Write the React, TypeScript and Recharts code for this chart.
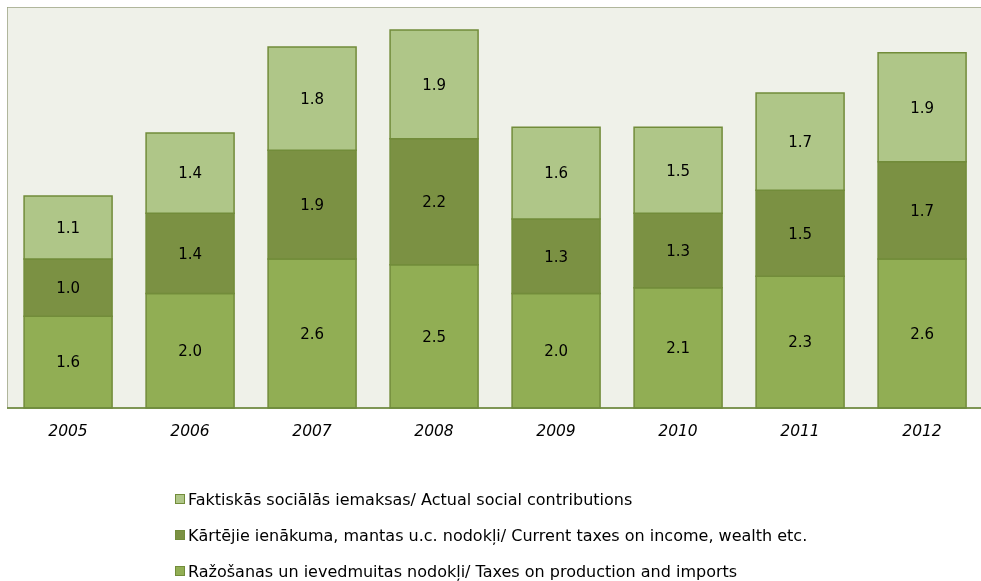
import React from "react";
import { BarChart, Bar, XAxis, YAxis, CartesianGrid, LabelList, Legend, ReferenceArea } from "recharts";

const years = ["2005", "2006", "2007", "2008", "2009", "2010", "2011", "2012"];
const production = [1.6, 2.0, 2.6, 2.5, 2.0, 2.1, 2.3, 2.6];
const currentTaxes = [1.0, 1.4, 1.9, 2.2, 1.3, 1.3, 1.5, 1.7];
const social = [1.1, 1.4, 1.8, 1.9, 1.6, 1.5, 1.7, 1.9];

const seriesNames = {
  social: "Faktiskās sociālās iemaksas/ Actual social contributions",
  current: "Kārtējie ienākuma, mantas u.c. nodokļi/ Current taxes on income, wealth etc.",
  production: "Ražošanas un ievedmuitas nodokļi/ Taxes on production and imports",
};

const colors = { social: "#AFC688", current: "#7B9143", production: "#91AE54" };
const border = "#728C3A";
const font = "'DejaVu Sans', Verdana, sans-serif";

const data = years.map((y, i) => ({
  year: y,
  production: production[i],
  current: currentTaxes[i],
  social: social[i],
}));

const legendItems = [
  { key: "social", name: seriesNames.social, color: colors.social },
  { key: "current", name: seriesNames.current, color: colors.current },
  { key: "production", name: seriesNames.production, color: colors.production },
];

// legend drawn as three stacked rows, light series first
function LegendBox() {
  return (
    <div style={{ fontFamily: font, fontSize: 16, color: "#000" }}>
      {legendItems.map((it) => (
        <div key={it.key} style={{ display: "flex", alignItems: "center", height: 36 }}>
          <span
            style={{
              display: "inline-block", width: 8, height: 8, background: it.color,
              border: `1px solid ${border}`, marginRight: 3,
            }}
          />
          <span>{it.name}</span>
        </div>
      ))}
    </div>
  );
}

const label = { fill: "#000", fontSize: 15, fontFamily: font };

export default function App() {
  // fixed so the oversized plot doesn't trigger page scrollbars
  return (
    <div style={{ position: "fixed", top: 7, left: 7, width: 974, height: 574, overflow: "hidden" }}>
      <BarChart
        width={976}
        height={574}
        data={data}
        margin={{ top: 0, right: 0, left: 0, bottom: 35 }}
        barCategoryGap="14%"
      >
        <CartesianGrid horizontal={false} vertical={false} fill="#EFF1E9" />
        <ReferenceArea y1={0} y2={7} fill="none" stroke="#9CA383" strokeWidth={1.5} ifOverflow="visible" />
        <YAxis domain={[0, 7]} hide />
        <XAxis
          dataKey="year"
          height={30}
          tickLine={false}
          axisLine={{ stroke: "#6E8B3D", strokeWidth: 1.5 }}
          tick={{ fill: "#000", fontSize: 15.5, fontStyle: "italic", fontFamily: font }}
          tickMargin={11}
        />
        <Legend
          verticalAlign="bottom"
          content={() => <LegendBox />}
          wrapperStyle={{ position: "absolute", top: 474, left: 168, width: 800, bottom: "auto" }}
        />
        <Bar dataKey="production" name={seriesNames.production} stackId="a" fill={colors.production} stroke={border} strokeWidth={1.5} isAnimationActive={false}>
          <LabelList dataKey="production" position="center" style={label} formatter={(v: number) => v.toFixed(1)} />
        </Bar>
        <Bar dataKey="current" name={seriesNames.current} stackId="a" fill={colors.current} stroke={border} strokeWidth={1.5} isAnimationActive={false}>
          <LabelList dataKey="current" position="center" style={label} formatter={(v: number) => v.toFixed(1)} />
        </Bar>
        <Bar dataKey="social" name={seriesNames.social} stackId="a" fill={colors.social} stroke={border} strokeWidth={1.5} isAnimationActive={false}>
          <LabelList dataKey="social" position="center" style={label} formatter={(v: number) => v.toFixed(1)} />
        </Bar>
      </BarChart>
    </div>
  );
}
